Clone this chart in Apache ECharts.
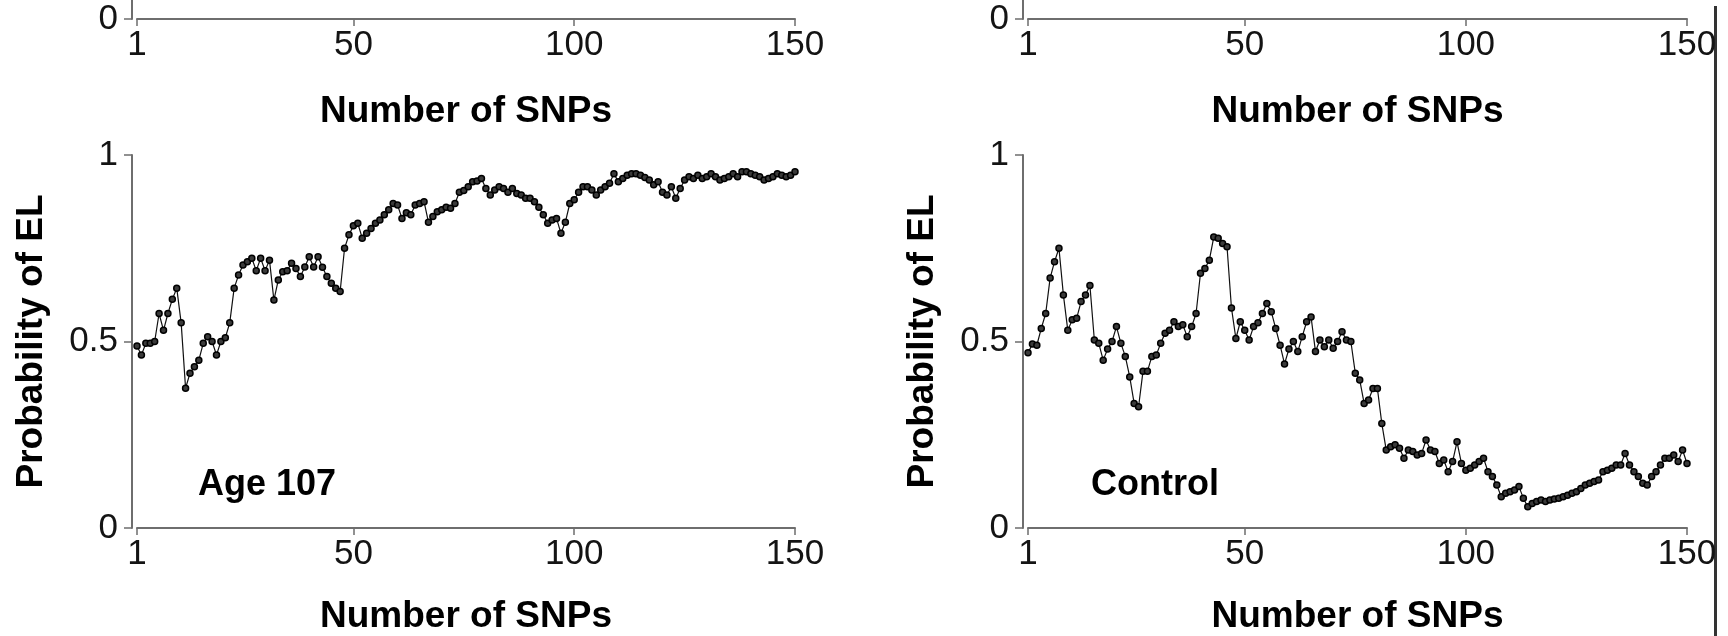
<!DOCTYPE html>
<html><head><meta charset="utf-8">
<script src="https://cdn.jsdelivr.net/npm/echarts@6/dist/echarts.min.js"></script>
<style>html,body{margin:0;padding:0;background:#fff}#c{width:1728px;height:636px}</style>
</head><body><div id="c"></div>
<script>
const xTicks = [1, 50, 100, 150];
const yTicks = [0, 0.5, 1];
const xTitle = 'Number of SNPs';
const yTitle = 'Probability of EL';
const panelLabels = ['Age 107', 'Control'];

const age107 = [
 0.488,0.464,0.495,0.495,0.50,0.575,0.53,0.575,0.613,0.643,
 0.55,0.375,0.415,0.432,0.45,0.495,0.513,0.50,0.464,0.50,
 0.51,0.55,0.643,0.678,0.705,0.714,0.723,0.69,0.723,0.69,
 0.718,0.611,0.665,0.687,0.69,0.71,0.696,0.674,0.70,0.727,
 0.70,0.727,0.699,0.674,0.656,0.643,0.634,0.75,0.786,0.81,
 0.817,0.777,0.79,0.803,0.817,0.826,0.84,0.853,0.87,0.866,
 0.83,0.845,0.84,0.866,0.87,0.875,0.82,0.835,0.848,0.853,
 0.86,0.857,0.87,0.90,0.905,0.915,0.928,0.93,0.937,0.91,
 0.893,0.906,0.915,0.91,0.90,0.91,0.897,0.893,0.884,0.884,
 0.875,0.86,0.84,0.817,0.826,0.83,0.79,0.82,0.87,0.88,
 0.90,0.915,0.915,0.906,0.893,0.906,0.915,0.924,0.95,0.928,
 0.937,0.946,0.95,0.95,0.946,0.94,0.933,0.92,0.928,0.90,
 0.893,0.915,0.884,0.91,0.933,0.942,0.937,0.946,0.937,0.942,
 0.95,0.942,0.933,0.937,0.942,0.95,0.942,0.955,0.955,0.95,
 0.946,0.942,0.933,0.937,0.942,0.95,0.946,0.942,0.946,0.955
];
const control = [
 0.47,0.493,0.49,0.535,0.575,0.67,0.714,0.75,0.625,0.53,
 0.558,0.562,0.607,0.625,0.65,0.504,0.495,0.45,0.48,0.50,
 0.54,0.495,0.46,0.405,0.334,0.325,0.42,0.42,0.46,0.464,
 0.495,0.522,0.53,0.553,0.54,0.545,0.513,0.54,0.575,0.683,
 0.696,0.718,0.78,0.777,0.763,0.754,0.59,0.508,0.553,0.53,
 0.504,0.54,0.55,0.575,0.602,0.58,0.535,0.49,0.44,0.48,
 0.50,0.473,0.513,0.553,0.566,0.473,0.504,0.486,0.504,0.482,
 0.50,0.526,0.504,0.50,0.415,0.397,0.334,0.343,0.374,0.374,
 0.28,0.209,0.218,0.223,0.214,0.187,0.209,0.205,0.196,0.20,
 0.236,0.209,0.205,0.173,0.182,0.151,0.178,0.231,0.173,0.155,
 0.16,0.169,0.178,0.187,0.151,0.138,0.115,0.084,0.093,0.097,
 0.102,0.111,0.08,0.057,0.066,0.071,0.075,0.071,0.075,0.078,
 0.08,0.084,0.088,0.093,0.097,0.106,0.115,0.12,0.125,0.129,
 0.151,0.155,0.16,0.169,0.169,0.20,0.169,0.151,0.138,0.12,
 0.115,0.138,0.151,0.169,0.187,0.187,0.196,0.178,0.209,0.173
];
const snps = Array.from({length: age107.length}, (_, i) => i + 1);

const FONT = '"Liberation Sans", Arial, sans-serif';
const AXIS_COLOR = '#6e6e6e';
const PANEL_H = 373;   // pixel height of a full panel (0..1)
const TOP_VISIBLE = 19; // visible pixel strip of the panels above
const gridBase = {outerBoundsMode: 'none', containLabel: false};
const grids = [
  Object.assign({left: 137, top: 155, width: 658, height: PANEL_H}, gridBase),
  Object.assign({left: 1028, top: 155, width: 659, height: PANEL_H}, gridBase),
  Object.assign({left: 137, top: 0, width: 658, height: TOP_VISIBLE}, gridBase),
  Object.assign({left: 1028, top: 0, width: 659, height: TOP_VISIBLE}, gridBase)
];
function xAx(g, gap) {
  return {
    type: 'value', gridIndex: g, min: 1, max: 150,
    axisLine: {show: true, onZero: false, lineStyle: {color: AXIS_COLOR, width: 2}},
    axisTick: {show: true, customValues: xTicks, length: 7, lineStyle: {color: AXIS_COLOR, width: 1.5}},
    axisLabel: {customValues: xTicks, margin: 9, fontSize: 35, color: '#141414', fontFamily: FONT},
    splitLine: {show: false},
    name: xTitle, nameLocation: 'middle', nameGap: gap,
    nameTextStyle: {fontSize: 37, fontWeight: 'bold', color: '#000', fontFamily: FONT}
  };
}
function yAx(g, full) {
  const ticks = full ? yTicks : [0];
  const a = {
    type: 'value', gridIndex: g, min: 0, max: full ? 1 : TOP_VISIBLE / PANEL_H, offset: 5,
    axisLine: {show: true, onZero: false, lineStyle: {color: AXIS_COLOR, width: 2}},
    axisTick: {show: true, customValues: ticks, length: 8, lineStyle: {color: AXIS_COLOR, width: 1.5}},
    axisLabel: {customValues: ticks, margin: 14, fontSize: 35, color: '#141414', fontFamily: FONT},
    splitLine: {show: false}
  };
  if (full) {
    a.name = yTitle; a.nameLocation = 'middle'; a.nameGap = 82;
    a.nameTextStyle = {fontSize: 37, fontWeight: 'bold', color: '#000', fontFamily: FONT};
  }
  return a;
}
function ser(g, vals) {
  return {
    type: 'line', xAxisIndex: g, yAxisIndex: g,
    data: snps.map((s, i) => [s, vals[i]]),
    symbol: 'circle', symbolSize: 6, showSymbol: true,
    lineStyle: {color: '#111', width: 1.2},
    itemStyle: {color: '#3a3a3a', borderColor: '#000', borderWidth: 1.5},
    animation: false, silent: true
  };
}
const chart = echarts.init(document.getElementById('c'), null, {renderer: 'canvas'});
chart.setOption({
  backgroundColor: '#fff',
  animation: false,
  grid: grids,
  xAxis: [xAx(0, 70), xAx(1, 70), xAx(2, 74), xAx(3, 74)],
  yAxis: [yAx(0, true), yAx(1, true), yAx(2, false), yAx(3, false)],
  series: [ser(0, age107), ser(1, control)],
  graphic: [
    {type: 'text', left: 198, top: 467, style: {text: panelLabels[0], font: 'bold 36px ' + FONT, fill: '#000'}},
    {type: 'text', left: 1091, top: 467, style: {text: panelLabels[1], font: 'bold 36px ' + FONT, fill: '#000'}},
    {type: 'rect', shape: {x: 1714, y: 6, width: 3, height: 630}, style: {fill: '#333'}}
  ]
});
</script></body></html>
